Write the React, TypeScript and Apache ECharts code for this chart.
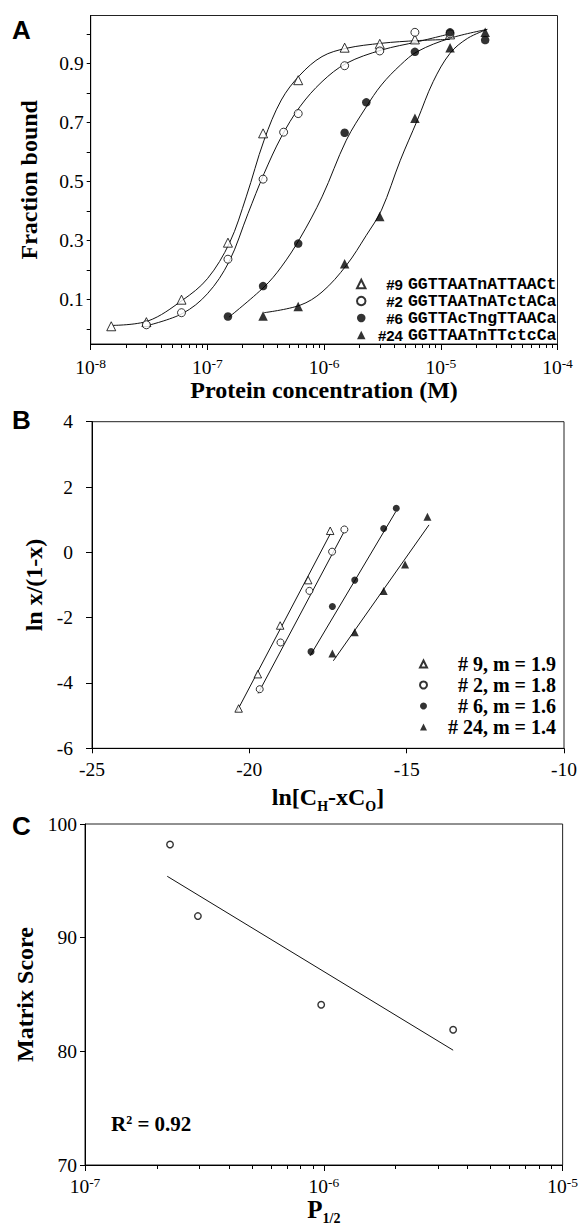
import React, { useEffect, useRef } from "react";
import * as echarts from "echarts";

const SERIF = "'Liberation Serif', 'Times New Roman', serif";
const SANS = "'Liberation Sans', Arial, sans-serif";
const MONO = "'Liberation Mono', 'Courier New', monospace";

// ---------- Panel A : binding curves ----------
const legendA = ["#9 GGTTAATnATTAACt", "#2 GGTTAATnATctACa", "#6 GGTTAcTngTTAACa", "#24 GGTTAATnTTctcCa"];
const concA9 = [1.5e-8, 3e-8, 6e-8, 1.5e-7, 3e-7, 6e-7, 1.5e-6, 3e-6, 6e-6, 1.2e-5];
const boundA9 = [0.01, 0.024, 0.1, 0.293, 0.663, 0.843, 0.953, 0.966, 0.981, 0.998];
const concA2 = [3e-8, 6e-8, 1.5e-7, 3e-7, 4.5e-7, 6e-7, 1.5e-6, 3e-6, 6e-6, 1.2e-5];
const boundA2 = [0.015, 0.056, 0.237, 0.508, 0.667, 0.73, 0.892, 0.942, 1.005, 1.0];
const concA6 = [1.5e-7, 3e-7, 6e-7, 1.5e-6, 2.3e-6, 6e-6, 1.2e-5, 2.4e-5];
const boundA6 = [0.043, 0.146, 0.29, 0.665, 0.768, 0.939, 1.005, 0.979];
const concA24 = [3e-7, 6e-7, 1.5e-6, 3e-6, 6e-6, 1.2e-5, 2.4e-5];
const boundA24 = [0.045, 0.077, 0.222, 0.382, 0.714, 0.953, 1.005];

// fitted curves
const fitA9X = [1.55e-8, 3.1e-8, 6.1e-8, 1.0e-7, 1.55e-7, 2.15e-7, 3.06e-7, 4.3e-7, 6.2e-7, 9.6e-7, 1.55e-6, 3.1e-6, 6.3e-6, 1.2e-5];
const fitA9Y = [0.013, 0.028, 0.098, 0.171, 0.293, 0.448, 0.64, 0.776, 0.86, 0.923, 0.951, 0.968, 0.977, 0.981];
const fitA2X = [3.1e-8, 6.1e-8, 1.0e-7, 1.53e-7, 2.23e-7, 3.06e-7, 4.3e-7, 6.2e-7, 9.6e-7, 1.55e-6, 3.1e-6, 6.3e-6, 1.2e-5];
const fitA2Y = [0.013, 0.053, 0.12, 0.228, 0.392, 0.527, 0.651, 0.753, 0.838, 0.9, 0.945, 0.973, 1.0];
const fitA6X = [1.53e-7, 3.06e-7, 4.3e-7, 6.2e-7, 9.6e-7, 1.55e-6, 2.3e-6, 3.1e-6, 4.5e-6, 6.3e-6, 1.2e-5, 2.5e-5];
const fitA6Y = [0.041, 0.143, 0.211, 0.307, 0.448, 0.64, 0.753, 0.827, 0.894, 0.94, 0.985, 1.015];
const fitA24X = [3.06e-7, 6.2e-7, 9.6e-7, 1.55e-6, 2.3e-6, 3.1e-6, 4.5e-6, 6.3e-6, 8.6e-6, 1.2e-5, 1.7e-5, 2.5e-5];
const fitA24Y = [0.056, 0.081, 0.126, 0.216, 0.318, 0.403, 0.572, 0.708, 0.838, 0.934, 0.985, 1.015];

const decadesA = [1e-8, 1e-7, 1e-6, 1e-5, 1e-4];
const yTicksA = [0, 0.1, 0.2, 0.3, 0.4, 0.5, 0.6, 0.7, 0.8, 0.9, 1.0];
const yLabelsA = [0.1, 0.3, 0.5, 0.7, 0.9];

// ---------- Panel B : Hill plots ----------
const legendB = ["# 9, m = 1.9", "# 2, m = 1.8", "# 6, m = 1.6", "# 24, m = 1.4"];
const lnB9X = [-20.34, -19.73, -19.02, -18.13, -17.43];
const lnB9Y = [-4.78, -3.73, -2.24, -0.85, 0.66];
const lnB2X = [-19.67, -19.01, -18.09, -17.37, -16.98];
const lnB2Y = [-4.19, -2.76, -1.18, 0.02, 0.7];
const lnB6X = [-18.04, -17.36, -16.65, -15.73, -15.33];
const lnB6Y = [-3.04, -1.66, -0.85, 0.73, 1.35];
const lnB24X = [-17.36, -16.65, -15.73, -15.05, -14.34];
const lnB24Y = [-3.1, -2.45, -1.18, -0.37, 1.09];
const lineB9X = [-20.4, -17.42];
const lineB9Y = [-4.88, 0.58];
const lineB2X = [-19.72, -17.0];
const lineB2Y = [-4.32, 0.61];
const lineB6X = [-18.07, -15.35];
const lineB6Y = [-3.17, 1.24];
const lineB24X = [-17.33, -14.29];
const lineB24Y = [-3.32, 0.84];

// ---------- Panel C : matrix score vs P1/2 ----------
const p12 = [2.27e-7, 2.97e-7, 9.75e-7, 3.48e-6];
const matrixScore = [98.2, 91.9, 84.1, 81.9];
const fitCX = [2.21e-7, 3.48e-6];
const fitCY = [95.4, 80.1];
const decadesC = [1e-7, 1e-6, 1e-5];

const zip = (xs: number[], ys: number[]) => xs.map((x, i) => [x, ys[i]]);
const minorOf = (dec: number[]) => {
  const out: number[] = [];
  for (let i = 0; i < dec.length - 1; i++) for (let k = 2; k <= 9; k++) out.push(k * dec[i]);
  return out;
};

const BLACK = "#000";
const nameStyle = { fontFamily: SERIF, fontWeight: "bold", fontSize: 24, color: BLACK };
const LABEL_FS = 19.5;
const numRich = { v: { fontFamily: SERIF, fontSize: LABEL_FS, color: BLACK } };
const numLabel = (margin: number, fmt: (v: number) => string) => ({
  show: true, margin, fontFamily: SERIF, fontSize: LABEL_FS, color: BLACK,
  formatter: (v: number) => `{v|${fmt(v)}}`, rich: numRich,
});
const powRich = {
  b: { fontFamily: SERIF, fontSize: LABEL_FS, color: BLACK },
  s: { fontFamily: SERIF, fontSize: 13.5, color: BLACK, padding: [0, 0, 8, 0] },
};
const powFmt = (v: number) => `{b|10}{s|${Math.round(Math.log10(v))}}`;

function logMajor(grid: number, dec: number[], name: any, nameGap: number, margin: number, rich: any = {}) {
  return {
    type: "log", logBase: 10, gridIndex: grid, min: dec[0], max: dec[dec.length - 1], position: "bottom",
    axisLine: { show: true, onZero: false, lineStyle: { color: BLACK, width: 1 } },
    axisTick: { show: true, inside: false, length: 6, customValues: dec, lineStyle: { color: BLACK } },
    axisLabel: { show: true, customValues: dec, margin, formatter: powFmt, rich: powRich, fontFamily: SERIF, fontSize: LABEL_FS, color: BLACK },
    splitLine: { show: false }, minorTick: { show: false },
    name, nameLocation: "middle", nameGap, nameTextStyle: { ...nameStyle, rich },
  };
}
function logMinor(grid: number, dec: number[]) {
  return {
    type: "log", logBase: 10, gridIndex: grid, min: dec[0], max: dec[dec.length - 1], position: "bottom",
    axisLine: { show: false, onZero: false },
    axisTick: { show: true, inside: false, length: 4, customValues: minorOf(dec), lineStyle: { color: BLACK } },
    axisLabel: { show: false }, splitLine: { show: false },
  };
}

const openStyle = { color: "#fff", borderColor: BLACK, borderWidth: 1 };
const fillStyle = { color: BLACK, borderColor: BLACK, borderWidth: 0 };

function scatter(name: string, x: number[], y: number[], g: number, symbol: string, size: number, filled: boolean) {
  return {
    type: "scatter", name, xAxisIndex: g === 0 ? 0 : g === 1 ? 2 : 3, yAxisIndex: g,
    data: zip(x, y), symbol, symbolSize: size, itemStyle: filled ? fillStyle : openStyle,
    z: 4, emphasis: { disabled: true }, silent: true,
  };
}
function curve(x: number[], y: number[], g: number, smooth: number | boolean) {
  return {
    type: "line", xAxisIndex: g === 0 ? 0 : g === 1 ? 2 : 3, yAxisIndex: g,
    data: zip(x, y), smooth, showSymbol: false, symbol: "none",
    lineStyle: { color: "#111", width: 1 }, z: 2, silent: true, emphasis: { disabled: true },
  };
}

export default function App() {
  const ref = useRef<HTMLDivElement>(null);
  useEffect(() => {
    document.body.style.margin = "0";
    const chart = echarts.init(ref.current!, null, { renderer: "svg" });
    const gridBase = { show: true, borderColor: "#222", borderWidth: 1, backgroundColor: "transparent" };
    chart.setOption({
      animation: false,
      backgroundColor: "#fff",
      grid: [
        { ...gridBase, left: 90.7, top: 15.5, width: 466.8, height: 328.5 },
        { ...gridBase, left: 92, top: 421.7, width: 472, height: 326.6 },
        { ...gridBase, left: 85, top: 824, width: 478.5, height: 341 },
      ],
      xAxis: [
        logMajor(0, decadesA, "Protein concentration (M)", 28, 12),
        logMinor(0, decadesA),
        {
          type: "value", gridIndex: 1, min: -25, max: -10, interval: 5, position: "bottom",
          axisLine: { show: true, onZero: false, lineStyle: { color: BLACK } },
          axisTick: { show: true, length: 5, lineStyle: { color: BLACK } },
          axisLabel: numLabel(11, (v) => String(v)),
          splitLine: { show: false },
          name: "{a|ln[C}{b|H}{a|-xC}{b|O}{a|]}", nameLocation: "middle", nameGap: 33,
          nameTextStyle: {
            ...nameStyle,
            rich: {
              a: { fontFamily: SERIF, fontWeight: "bold", fontSize: 24, color: BLACK },
              b: { fontFamily: SERIF, fontWeight: "bold", fontSize: 14, color: BLACK, padding: [18, 0, 0, 0] },
            },
          },
        },
        logMajor(2, decadesC, "{a|P}{b|1/2}", 28, 10, {
          a: { fontFamily: SERIF, fontWeight: "bold", fontSize: 25, color: BLACK },
          b: { fontFamily: SERIF, fontWeight: "bold", fontSize: 14, color: BLACK, padding: [18, 0, 0, 0] },
        }),
        logMinor(2, decadesC),
      ],
      yAxis: [
        {
          type: "value", gridIndex: 0, min: -0.05, max: 1.062,
          axisLine: { show: true, onZero: false, lineStyle: { color: BLACK } },
          axisTick: { show: true, length: 4, customValues: yTicksA, lineStyle: { color: BLACK } },
          axisLabel: { ...numLabel(7, (v) => v.toFixed(1)), customValues: yLabelsA },
          splitLine: { show: false },
          name: "Fraction bound", nameLocation: "middle", nameGap: 50, nameTextStyle: nameStyle,
        },
        {
          type: "value", gridIndex: 1, min: -6, max: 4, interval: 2,
          axisLine: { show: true, onZero: false, lineStyle: { color: BLACK } },
          axisTick: { show: true, length: 6, lineStyle: { color: BLACK } },
          axisLabel: numLabel(19, (v) => String(v)),
          splitLine: { show: false },
          name: "ln x/(1-x)", nameLocation: "middle", nameGap: 46, nameTextStyle: nameStyle,
        },
        {
          type: "value", gridIndex: 2, min: 70, max: 100, interval: 10,
          axisLine: { show: true, onZero: false, lineStyle: { color: BLACK } },
          axisTick: { show: true, length: 5, lineStyle: { color: BLACK } },
          axisLabel: numLabel(8, (v) => String(v)),
          splitLine: { show: false },
          name: "Matrix Score", nameLocation: "middle", nameGap: 44, nameTextStyle: nameStyle,
        },
      ],
      legend: [
        {
          data: legendA, orient: "vertical", right: 24.5, top: 275.5, itemWidth: 8.5, itemHeight: 8.5, itemGap: 0,
          padding: 0, selectedMode: false,
          formatter: (name: string) => {
            const i = name.indexOf(" ");
            return `{n|${name.slice(0, i)}}{s|${name.slice(i + 1)}}`;
          },
          textStyle: {
            width: 186, lineHeight: 16.8,
            rich: {
              n: { fontFamily: SANS, fontWeight: "bold", fontSize: 15, color: BLACK, align: "right" },
              s: { fontFamily: MONO, fontWeight: "bold", fontSize: 16.5, color: BLACK, align: "right", padding: [0, 0, 0, 5] },
            },
          },
        },
        {
          data: legendB, orient: "vertical", right: 25, top: 653.5, itemWidth: 7, itemHeight: 7, itemGap: 0,
          padding: 0, selectedMode: false,
          formatter: (name: string) => `{t|${name}}`,
          textStyle: {
            width: 124, lineHeight: 21,
            rich: { t: { fontFamily: SERIF, fontWeight: "bold", fontSize: 20, color: BLACK, align: "right" } },
          },
        },
      ],
      graphic: [
        { type: "text", x: 12, y: 17, style: { text: "A", fontFamily: SANS, fontWeight: "bold", fontSize: 26, fill: BLACK, verticalAlign: "top" } },
        { type: "text", x: 12, y: 407, style: { text: "B", fontFamily: SANS, fontWeight: "bold", fontSize: 26, fill: BLACK, verticalAlign: "top" } },
        { type: "text", x: 12, y: 813, style: { text: "C", fontFamily: SANS, fontWeight: "bold", fontSize: 26, fill: BLACK, verticalAlign: "top" } },
        {
          type: "text", x: 111, y: 1124,
          style: {
            text: "{a|R}{s|2}{a| = 0.92}", verticalAlign: "middle", fill: BLACK,
            rich: {
              a: { fontFamily: SERIF, fontWeight: "bold", fontSize: 21, fill: BLACK },
              s: { fontFamily: SERIF, fontWeight: "bold", fontSize: 12, fill: BLACK, padding: [0, 0, 9, 0] },
            },
          },
        },
      ],
      series: [
        curve(fitA9X, fitA9Y, 0, 0.35),
        curve(fitA2X, fitA2Y, 0, 0.35),
        curve(fitA6X, fitA6Y, 0, 0.35),
        curve(fitA24X, fitA24Y, 0, 0.35),
        scatter(legendA[0], concA9, boundA9, 0, "triangle", 9, false),
        scatter(legendA[1], concA2, boundA2, 0, "circle", 8, false),
        scatter(legendA[2], concA6, boundA6, 0, "circle", 8.5, true),
        scatter(legendA[3], concA24, boundA24, 0, "triangle", 9.5, true),

        curve(lineB9X, lineB9Y, 1, false),
        curve(lineB2X, lineB2Y, 1, false),
        curve(lineB6X, lineB6Y, 1, false),
        curve(lineB24X, lineB24Y, 1, false),
        scatter(legendB[0], lnB9X, lnB9Y, 1, "triangle", 7.5, false),
        scatter(legendB[1], lnB2X, lnB2Y, 1, "circle", 7, false),
        scatter(legendB[2], lnB6X, lnB6Y, 1, "circle", 7, true),
        scatter(legendB[3], lnB24X, lnB24Y, 1, "triangle", 8, true),

        curve(fitCX, fitCY, 2, false),
        {
          type: "scatter", name: "P1/2", xAxisIndex: 3, yAxisIndex: 2, data: zip(p12, matrixScore),
          symbol: "circle", symbolSize: 6.5, itemStyle: { color: "#fff", borderColor: BLACK, borderWidth: 1.4 },
          z: 4, silent: true, emphasis: { disabled: true },
        },
      ],
    });
    return () => chart.dispose();
  }, []);
  return <div ref={ref} style={{ width: 581, height: 1230 }} />;
}
